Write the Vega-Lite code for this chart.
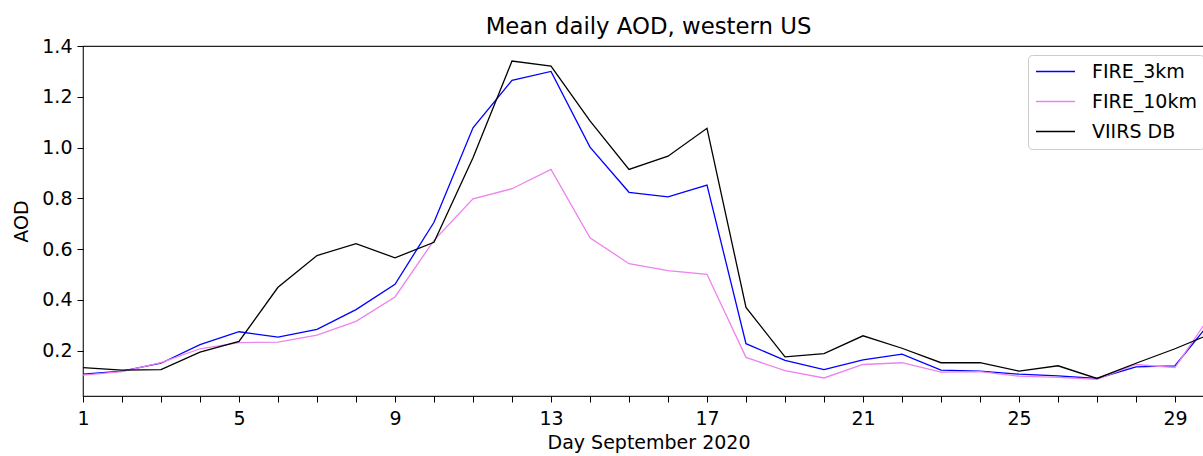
{
  "$schema": "https://vega.github.io/schema/vega-lite/v6.json",
  "width": 1131,
  "height": 350,
  "autosize": {"type": "none"},
  "padding": {"left": 83, "top": 46, "right": 0, "bottom": 60},
  "background": "white",
  "title": {"text": "Mean daily AOD, western US", "fontSize": 22.8, "font": "DejaVu Sans", "fontWeight": "normal", "color": "#000", "offset": 9, "dy": 11, "anchor": "middle"},
  "datasets": {
    "aod": [
      {"day": 1, "series": "FIRE_3km", "aod": 0.108}, {"day": 1, "series": "FIRE_10km", "aod": 0.104}, {"day": 1, "series": "VIIRS DB", "aod": 0.134},
      {"day": 2, "series": "FIRE_3km", "aod": 0.120}, {"day": 2, "series": "FIRE_10km", "aod": 0.118}, {"day": 2, "series": "VIIRS DB", "aod": 0.124},
      {"day": 3, "series": "FIRE_3km", "aod": 0.151}, {"day": 3, "series": "FIRE_10km", "aod": 0.153}, {"day": 3, "series": "VIIRS DB", "aod": 0.126},
      {"day": 4, "series": "FIRE_3km", "aod": 0.224}, {"day": 4, "series": "FIRE_10km", "aod": 0.208}, {"day": 4, "series": "VIIRS DB", "aod": 0.195},
      {"day": 5, "series": "FIRE_3km", "aod": 0.275}, {"day": 5, "series": "FIRE_10km", "aod": 0.232}, {"day": 5, "series": "VIIRS DB", "aod": 0.237},
      {"day": 6, "series": "FIRE_3km", "aod": 0.254}, {"day": 6, "series": "FIRE_10km", "aod": 0.234}, {"day": 6, "series": "VIIRS DB", "aod": 0.450},
      {"day": 7, "series": "FIRE_3km", "aod": 0.284}, {"day": 7, "series": "FIRE_10km", "aod": 0.262}, {"day": 7, "series": "VIIRS DB", "aod": 0.575},
      {"day": 8, "series": "FIRE_3km", "aod": 0.362}, {"day": 8, "series": "FIRE_10km", "aod": 0.316}, {"day": 8, "series": "VIIRS DB", "aod": 0.622},
      {"day": 9, "series": "FIRE_3km", "aod": 0.462}, {"day": 9, "series": "FIRE_10km", "aod": 0.412}, {"day": 9, "series": "VIIRS DB", "aod": 0.566},
      {"day": 10, "series": "FIRE_3km", "aod": 0.706}, {"day": 10, "series": "FIRE_10km", "aod": 0.635}, {"day": 10, "series": "VIIRS DB", "aod": 0.627},
      {"day": 11, "series": "FIRE_3km", "aod": 1.078}, {"day": 11, "series": "FIRE_10km", "aod": 0.798}, {"day": 11, "series": "VIIRS DB", "aod": 0.960},
      {"day": 12, "series": "FIRE_3km", "aod": 1.265}, {"day": 12, "series": "FIRE_10km", "aod": 0.838}, {"day": 12, "series": "VIIRS DB", "aod": 1.341},
      {"day": 13, "series": "FIRE_3km", "aod": 1.300}, {"day": 13, "series": "FIRE_10km", "aod": 0.914}, {"day": 13, "series": "VIIRS DB", "aod": 1.321},
      {"day": 14, "series": "FIRE_3km", "aod": 1.002}, {"day": 14, "series": "FIRE_10km", "aod": 0.645}, {"day": 14, "series": "VIIRS DB", "aod": 1.105},
      {"day": 15, "series": "FIRE_3km", "aod": 0.824}, {"day": 15, "series": "FIRE_10km", "aod": 0.543}, {"day": 15, "series": "VIIRS DB", "aod": 0.914},
      {"day": 16, "series": "FIRE_3km", "aod": 0.806}, {"day": 16, "series": "FIRE_10km", "aod": 0.516}, {"day": 16, "series": "VIIRS DB", "aod": 0.966},
      {"day": 17, "series": "FIRE_3km", "aod": 0.852}, {"day": 17, "series": "FIRE_10km", "aod": 0.501}, {"day": 17, "series": "VIIRS DB", "aod": 1.076},
      {"day": 18, "series": "FIRE_3km", "aod": 0.228}, {"day": 18, "series": "FIRE_10km", "aod": 0.174}, {"day": 18, "series": "VIIRS DB", "aod": 0.371},
      {"day": 19, "series": "FIRE_3km", "aod": 0.162}, {"day": 19, "series": "FIRE_10km", "aod": 0.122}, {"day": 19, "series": "VIIRS DB", "aod": 0.176},
      {"day": 20, "series": "FIRE_3km", "aod": 0.126}, {"day": 20, "series": "FIRE_10km", "aod": 0.093}, {"day": 20, "series": "VIIRS DB", "aod": 0.189},
      {"day": 21, "series": "FIRE_3km", "aod": 0.164}, {"day": 21, "series": "FIRE_10km", "aod": 0.146}, {"day": 21, "series": "VIIRS DB", "aod": 0.259},
      {"day": 22, "series": "FIRE_3km", "aod": 0.187}, {"day": 22, "series": "FIRE_10km", "aod": 0.153}, {"day": 22, "series": "VIIRS DB", "aod": 0.210},
      {"day": 23, "series": "FIRE_3km", "aod": 0.124}, {"day": 23, "series": "FIRE_10km", "aod": 0.116}, {"day": 23, "series": "VIIRS DB", "aod": 0.153},
      {"day": 24, "series": "FIRE_3km", "aod": 0.120}, {"day": 24, "series": "FIRE_10km", "aod": 0.118}, {"day": 24, "series": "VIIRS DB", "aod": 0.153},
      {"day": 25, "series": "FIRE_3km", "aod": 0.108}, {"day": 25, "series": "FIRE_10km", "aod": 0.100}, {"day": 25, "series": "VIIRS DB", "aod": 0.120},
      {"day": 26, "series": "FIRE_3km", "aod": 0.101}, {"day": 26, "series": "FIRE_10km", "aod": 0.095}, {"day": 26, "series": "VIIRS DB", "aod": 0.141},
      {"day": 27, "series": "FIRE_3km", "aod": 0.091}, {"day": 27, "series": "FIRE_10km", "aod": 0.088}, {"day": 27, "series": "VIIRS DB", "aod": 0.091},
      {"day": 28, "series": "FIRE_3km", "aod": 0.137}, {"day": 28, "series": "FIRE_10km", "aod": 0.146}, {"day": 28, "series": "VIIRS DB", "aod": 0.151},
      {"day": 29, "series": "FIRE_3km", "aod": 0.141}, {"day": 29, "series": "FIRE_10km", "aod": 0.134}, {"day": 29, "series": "VIIRS DB", "aod": 0.208},
      {"day": 30, "series": "FIRE_3km", "aod": 0.330}, {"day": 30, "series": "FIRE_10km", "aod": 0.360}, {"day": 30, "series": "VIIRS DB", "aod": 0.272}
    ]
  },
  "data": {"name": "aod"},
  "mark": {"type": "line", "strokeWidth": 1.3, "clip": true},
  "encoding": {
    "x": {
      "field": "day", "type": "quantitative",
      "scale": {"domain": [1, 30], "nice": false, "zero": false},
      "axis": {
        "title": "Day September 2020",
        "values": [1,2,3,4,5,6,7,8,9,10,11,12,13,14,15,16,17,18,19,20,21,22,23,24,25,26,27,28,29,30],
        "labelExpr": "(datum.value - 1) % 4 == 0 ? datum.label : ''",
        "labelFlush": false,
        "labelOverlap": false,
        "labelPadding": 7,
        "titlePadding": 5
      }
    },
    "y": {
      "field": "aod", "type": "quantitative",
      "scale": {"domain": [0.022, 1.4], "nice": false, "zero": false},
      "axis": {
        "title": "AOD",
        "values": [0.2, 0.4, 0.6, 0.8, 1.0, 1.2, 1.4],
        "format": ".1f",
        "labelFlush": false,
        "labelOverlap": false,
        "labelPadding": 5,
        "titlePadding": 10
      }
    },
    "color": {
      "field": "series", "type": "nominal",
      "scale": {"domain": ["FIRE_3km", "FIRE_10km", "VIIRS DB"], "range": ["#0000ff", "#ee82ee", "#000000"]},
      "legend": {
        "title": null,
        "orient": "none",
        "legendX": 945,
        "legendY": 9,
        "symbolType": "stroke",
        "symbolSize": 1521,
        "symbolStrokeWidth": 1.3,
        "symbolOffset": 0,
        "labelFontSize": 19,
        "labelFont": "DejaVu Sans",
        "labelColor": "#000",
        "labelOffset": 16,
        "padding": 7,
        "rowPadding": 10,
        "clipHeight": 19,
        "strokeColor": "#cccccc",
        "fillColor": "white",
        "cornerRadius": 4
      }
    }
  },
  "config": {
    "font": "DejaVu Sans",
    "view": {"stroke": "#222", "strokeWidth": 1.2},
    "axis": {
      "labelFont": "DejaVu Sans", "labelFontSize": 19, "labelColor": "#000",
      "titleFont": "DejaVu Sans", "titleFontSize": 19, "titleFontWeight": "normal", "titleColor": "#000",
      "tickColor": "#000", "tickSize": 6, "tickWidth": 1, "domain": false, "grid": false
    }
  }
}
